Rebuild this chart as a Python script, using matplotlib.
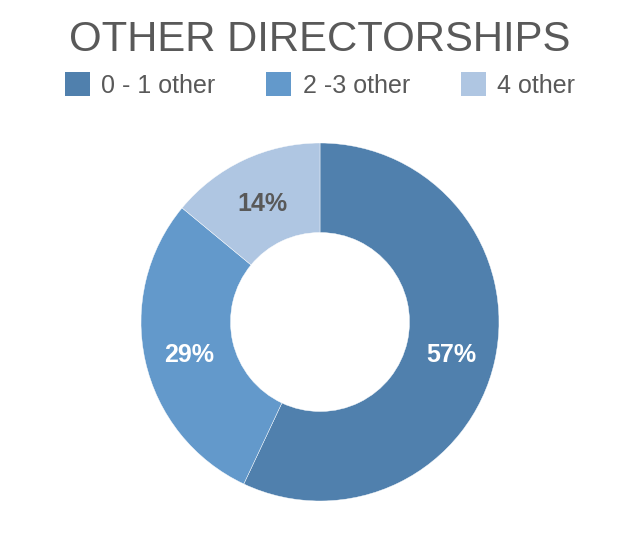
import matplotlib.pyplot as plt
from matplotlib.patches import Patch

plt.rcParams['font.family'] = ['Liberation Sans', 'DejaVu Sans']

# données
categories = ["0 - 1 other", "2 -3 other", "4 other"]
values = [57, 29, 14]
colors = ["#5080ad", "#6399cb", "#afc6e2"]
label_colors = ["white", "white", "#595959"]

fig = plt.figure(figsize=(6.4, 5.4), dpi=100)

# axe carré centré sur le donut
cx, cy, r = 320, 322, 179
ax = fig.add_axes([(cx - r) / 640, (540 - cy - r) / 540, 2 * r / 640, 2 * r / 540])

wedges, texts, autotexts = ax.pie(
    values, colors=colors, startangle=90, counterclock=False,
    radius=1, pctdistance=0.75, autopct='%d%%',
    wedgeprops=dict(width=0.5, edgecolor='white', linewidth=0.3),
    textprops=dict(fontsize=18, fontweight='bold'))
for t, c in zip(autotexts, label_colors):
    t.set_color(c)
    x, y = t.get_position()
    t.set_position((x, y - 0.02))
ax.set_xlim(-1, 1)
ax.set_ylim(-1, 1)
ax.set_aspect('equal')
ax.axis('off')

fig.text(0.5, 1 - 40 / 540, "OTHER DIRECTORSHIPS", ha='center', va='center',
         fontsize=30.2, color='#595959')

handles = [Patch(facecolor=c, edgecolor='none') for c in colors]
fig.legend(handles, categories, loc='center', bbox_to_anchor=(0.5, 1 - 85 / 540),
           ncol=3, frameon=False, fontsize=18, labelcolor='#595959',
           handlelength=1.0, handleheight=1.05, handletextpad=0.45,
           columnspacing=2.05)

fig.savefig("out.png", dpi=100)
